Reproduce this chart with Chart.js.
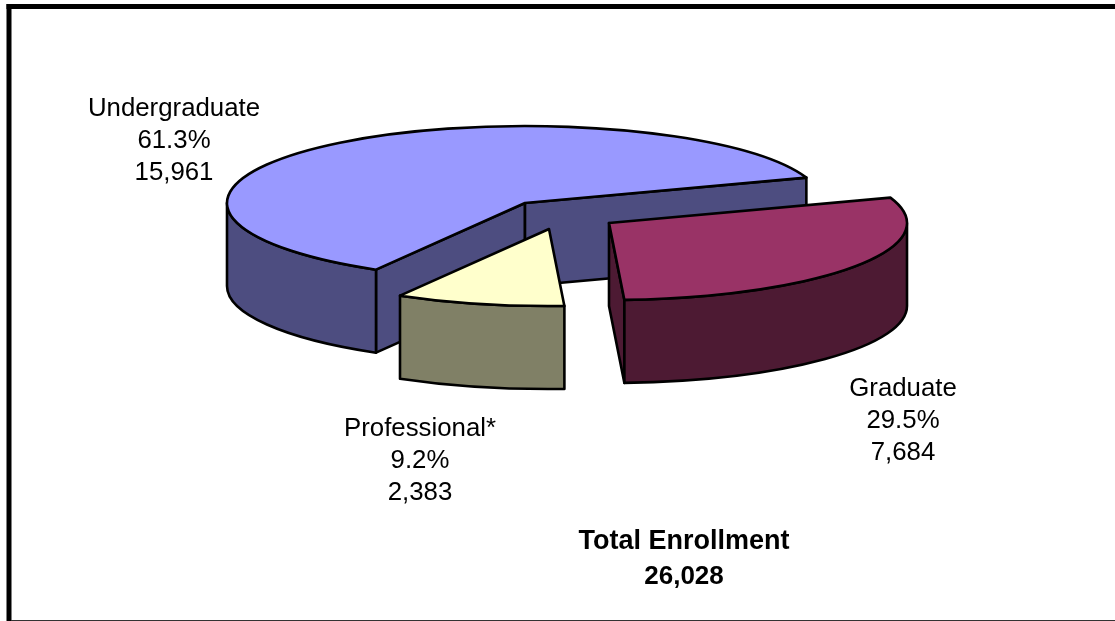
<!DOCTYPE html>
<html><head><meta charset="utf-8">
<script src="https://cdn.jsdelivr.net/npm/chart.js@4"></script>
<style>html,body{margin:0;padding:0;background:#fff;overflow:hidden}canvas{display:block}</style>
</head><body>
<canvas id="c" width="1115" height="621"></canvas>
<script>
const categories = ['Undergraduate', 'Graduate', 'Professional*'];
const enrollment = [15961, 7684, 2383];
const percentLabels = ['61.3%', '29.5%', '9.2%'];
const countLabels = ['15,961', '7,684', '2,383'];
const topColors = ['#9999FF', '#993366', '#FFFFCC'];
const sideColors = ['#4D4D80', '#4D1A33', '#808066'];
const totalTitle = 'Total Enrollment';
const totalValue = '26,028';

/* projection of the flat pie to the tilted 3D look */
const view = { cx: 525, cy: 203, rx: 298, ry: 77, depth: 83 };
const explode = [[0, 0], [84, 20], [24, 26]];
const labelAnchors = [[174, 116], [903, 396], [420, 435.5]];
const FONT = '"Liberation Sans", Arial, sans-serif';
const TWO_PI = Math.PI * 2;

const pie3d = {
  id: 'pie3d',
  beforeDatasetsDraw(chart) {
    const ctx = chart.ctx;
    const arcs = chart.getDatasetMeta(0).data;
    ctx.save();
    ctx.lineWidth = 2.6;
    ctx.lineJoin = 'round';
    ctx.strokeStyle = '#000';
    arcs.forEach((el, i) => {
      const cx = view.cx + explode[i][0], cy = view.cy + explode[i][1];
      const { rx, ry, depth: d } = view;
      const a0 = el.startAngle, a1 = el.endAngle;
      const px = a => cx + rx * Math.cos(a), py = a => cy + ry * Math.sin(a);
      const ell = (yy, s, e, ccw) => {
        ctx.save(); ctx.translate(cx, yy); ctx.scale(rx, ry);
        ctx.arc(0, 0, 1, s, e, !!ccw); ctx.restore();
      };
      const side = sideColors[i];
      const paint = f => { ctx.fillStyle = f; ctx.fill(); ctx.stroke(); };

      /* radial cut walls, drawn when they face the viewer */
      [[a0, a0 - Math.PI / 2], [a1, a1 + Math.PI / 2]].forEach(([a, n]) => {
        if (Math.sin(n) > 0) {
          ctx.beginPath();
          ctx.moveTo(cx, cy); ctx.lineTo(px(a), py(a));
          ctx.lineTo(px(a), py(a) + d); ctx.lineTo(cx, cy + d);
          ctx.closePath(); paint(side);
        }
      });

      /* outer wall: part of the rim on the near half of the ellipse */
      for (let k = -1; k <= 2; k++) {
        const s = Math.max(a0, k * TWO_PI), e = Math.min(a1, k * TWO_PI + Math.PI);
        if (e > s) {
          ctx.beginPath();
          ell(cy, s, e);
          ell(cy + d, e, s, true);
          ctx.closePath(); paint(side);
        }
      }

      /* top face: the library's own arc element under the tilt transform */
      ctx.save();
      ctx.translate(cx, cy);
      ctx.scale(rx / el.outerRadius, ry / el.outerRadius);
      ctx.translate(-el.x, -el.y);
      el.draw(ctx);
      ctx.restore();
      ctx.beginPath();
      ctx.moveTo(cx, cy);
      ell(cy, a0, a1);
      ctx.closePath();
      ctx.stroke();
    });
    ctx.restore();
    return false;
  },
  afterDraw(chart) {
    const ctx = chart.ctx;
    ctx.save();
    /* frame */
    ctx.fillStyle = '#000';
    ctx.fillRect(6.5, 4, 1108.5, 5);
    ctx.fillRect(6.5, 4, 5, 617);
    ctx.fillStyle = '#333';
    ctx.fillRect(11, 620, 1104, 1);
    /* labels */
    ctx.fillStyle = '#000';
    ctx.textAlign = 'center';
    ctx.textBaseline = 'alphabetic';
    ctx.font = '25.8px ' + FONT;
    categories.forEach((name, i) => {
      const [x, y] = labelAnchors[i];
      ctx.fillText(name, x, y);
      ctx.fillText(percentLabels[i], x, y + 32);
      ctx.fillText(countLabels[i], x, y + 64);
    });
    ctx.font = 'bold 27px ' + FONT;
    ctx.fillText(totalTitle, 684, 549);
    ctx.font = 'bold 26px ' + FONT;
    ctx.fillText(totalValue, 684, 584);
    ctx.restore();
  }
};

new Chart(document.getElementById('c'), {
  type: 'pie',
  data: {
    labels: categories,
    datasets: [{ data: enrollment, backgroundColor: topColors, borderWidth: 0 }]
  },
  options: {
    responsive: false,
    animation: false,
    rotation: 210,
    plugins: { legend: { display: false }, tooltip: { enabled: false } }
  },
  plugins: [pie3d]
});
</script>
</body></html>
